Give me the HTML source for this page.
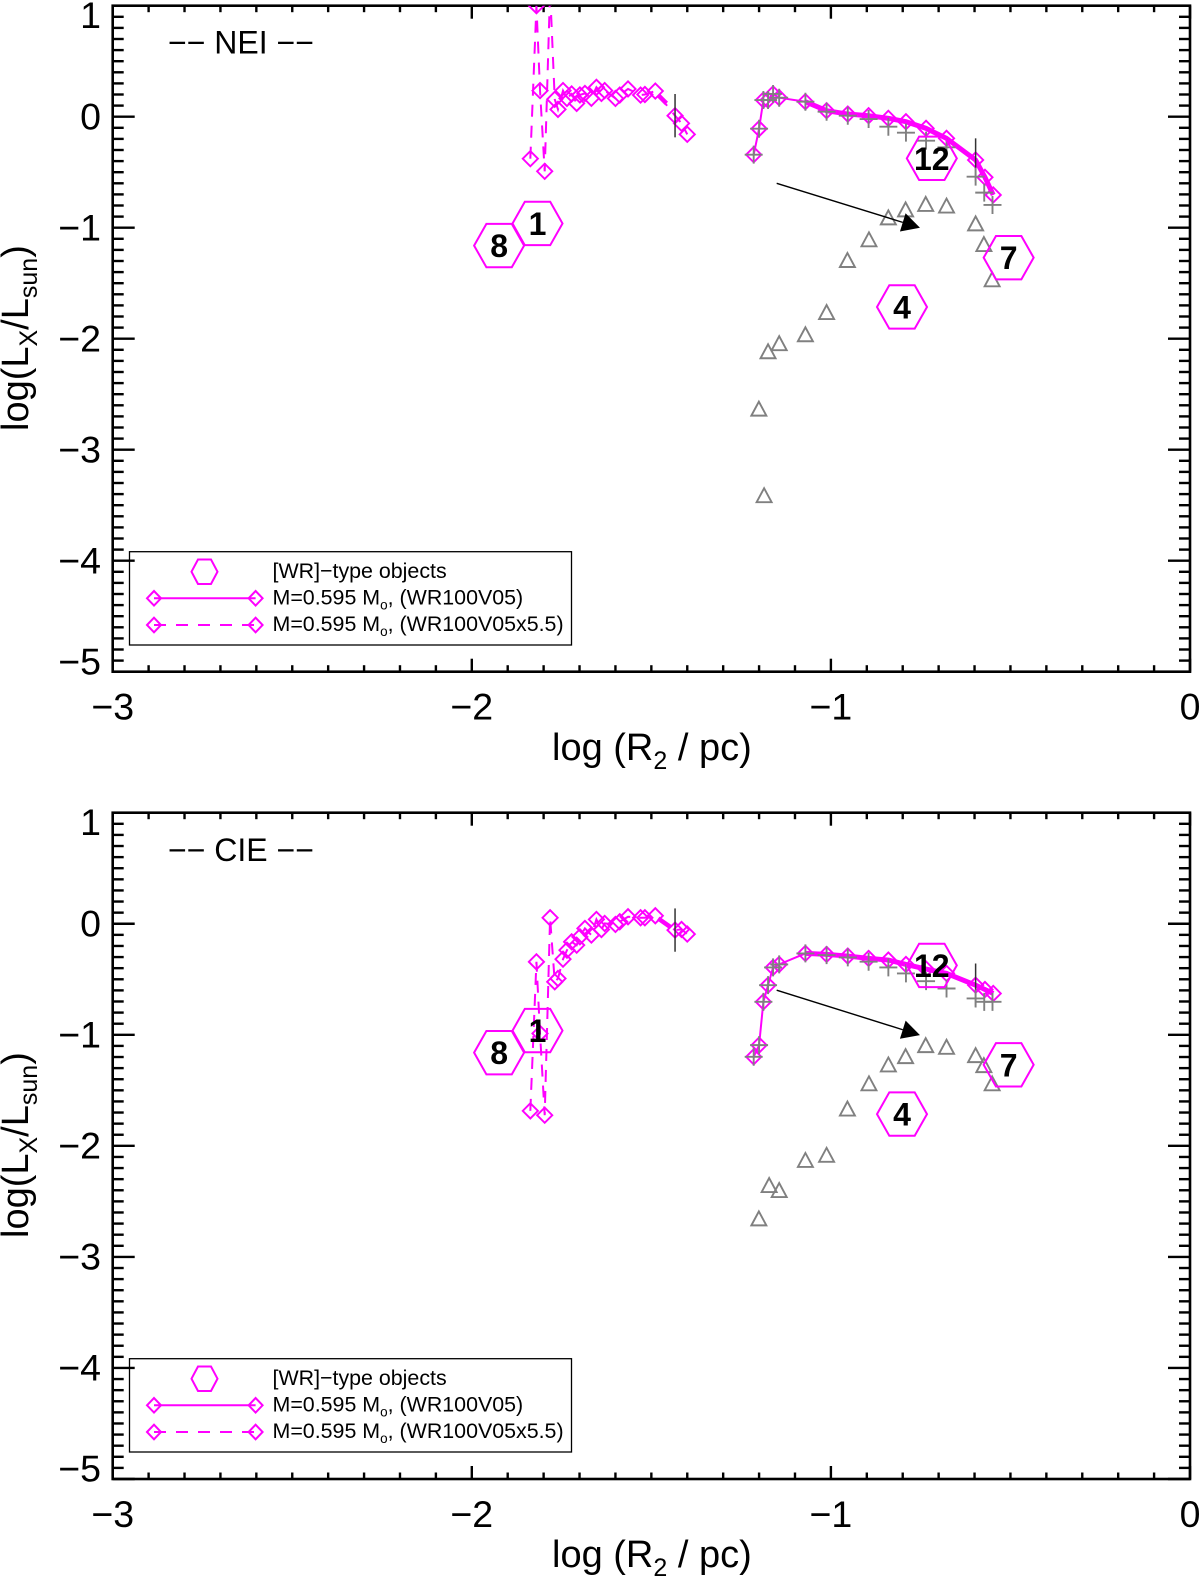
<!DOCTYPE html>
<html>
<head>
<meta charset="utf-8">
<title>Lx vs R2 chart</title>
<style>
html,body{margin:0;padding:0;background:#fff;}
svg{display:block;font-family:"Liberation Sans",sans-serif;}
text{fill:#000;}
</style>
</head>
<body>
<svg id="chart" xmlns="http://www.w3.org/2000/svg" width="1200" height="1578" viewBox="0 0 1200 1578">
  <rect x="0" y="0" width="1200" height="1578" fill="#fff"/>
  <defs>
    <clipPath id="clip-nei"><rect x="112.7" y="5.7" width="1077.3" height="666"/></clipPath>
    <clipPath id="clip-cie"><rect x="112.7" y="812.7" width="1077.3" height="666.3"/></clipPath>
  </defs>

  <g id="panel-nei">
    <text x="168" y="53.5" font-size="32">−− NEI −−</text>
    <text x="552" y="760" font-size="38">log (R<tspan font-size="25" dy="9">2</tspan><tspan dy="-9"> / pc)</tspan></text>
    <text transform="translate(28,431) rotate(-90)" font-size="38">log(L<tspan font-size="25" dy="9">X</tspan><tspan dy="-9">/L</tspan><tspan font-size="25" dy="9">sun</tspan><tspan dy="-9">)</tspan></text>
    <g>
      <rect x="129.5" y="551.7" width="442" height="93.3" fill="none" stroke="#000" stroke-width="1.3"/>
      <polygon points="191.5,571.7 198,559.5 211,559.5 217.5,571.7 211,584 198,584" fill="none" stroke="#ff00ff" stroke-width="2"/>
      <text x="272.5" y="578" font-size="21.4">[WR]−type objects</text>
      <line x1="154" y1="598.3" x2="255.6" y2="598.3" stroke="#ff00ff" stroke-width="2"/>
      <polygon points="147,598.3 154,591 161,598.3 154,605.6" fill="none" stroke="#ff00ff" stroke-width="2"/>
      <polygon points="248.6,598.3 255.6,591 262.6,598.3 255.6,605.6" fill="none" stroke="#ff00ff" stroke-width="2"/>
      <text x="272.5" y="604.5" font-size="21.4">M=0.595 M<tspan font-size="13.5" dy="5">o</tspan><tspan dy="-5">, (WR100V05)</tspan></text>
      <line x1="154" y1="625" x2="255.6" y2="625" stroke="#ff00ff" stroke-width="2" stroke-dasharray="12 10"/>
      <polygon points="147,625 154,617.7 161,625 154,632.3" fill="none" stroke="#ff00ff" stroke-width="2"/>
      <polygon points="248.6,625 255.6,617.7 262.6,625 255.6,632.3" fill="none" stroke="#ff00ff" stroke-width="2"/>
      <text x="272.5" y="631" font-size="21.4">M=0.595 M<tspan font-size="13.5" dy="5">o</tspan><tspan dy="-5">, (WR100V05x5.5)</tspan></text>
    </g>
  </g>

  <g id="panel-cie">
    <text x="168" y="861" font-size="32">−− CIE −−</text>
    <text x="552" y="1567" font-size="38">log (R<tspan font-size="25" dy="9">2</tspan><tspan dy="-9"> / pc)</tspan></text>
    <text transform="translate(28,1238) rotate(-90)" font-size="38">log(L<tspan font-size="25" dy="9">X</tspan><tspan dy="-9">/L</tspan><tspan font-size="25" dy="9">sun</tspan><tspan dy="-9">)</tspan></text>
    <g>
      <rect x="129.5" y="1358.7" width="442" height="93.3" fill="none" stroke="#000" stroke-width="1.3"/>
      <polygon points="191.5,1378.7 198,1366.5 211,1366.5 217.5,1378.7 211,1391 198,1391" fill="none" stroke="#ff00ff" stroke-width="2"/>
      <text x="272.5" y="1385" font-size="21.4">[WR]−type objects</text>
      <line x1="154" y1="1405.3" x2="255.6" y2="1405.3" stroke="#ff00ff" stroke-width="2"/>
      <polygon points="147,1405.3 154,1398 161,1405.3 154,1412.6" fill="none" stroke="#ff00ff" stroke-width="2"/>
      <polygon points="248.6,1405.3 255.6,1398 262.6,1405.3 255.6,1412.6" fill="none" stroke="#ff00ff" stroke-width="2"/>
      <text x="272.5" y="1411.5" font-size="21.4">M=0.595 M<tspan font-size="13.5" dy="5">o</tspan><tspan dy="-5">, (WR100V05)</tspan></text>
      <line x1="154" y1="1432" x2="255.6" y2="1432" stroke="#ff00ff" stroke-width="2" stroke-dasharray="12 10"/>
      <polygon points="147,1432 154,1424.7 161,1432 154,1439.3" fill="none" stroke="#ff00ff" stroke-width="2"/>
      <polygon points="248.6,1432 255.6,1424.7 262.6,1432 255.6,1439.3" fill="none" stroke="#ff00ff" stroke-width="2"/>
      <text x="272.5" y="1438" font-size="21.4">M=0.595 M<tspan font-size="13.5" dy="5">o</tspan><tspan dy="-5">, (WR100V05x5.5)</tspan></text>
    </g>
  </g>
</svg>

<script>
var xTickLabels = ['−3', '−2', '−1', '0'];
var xTickValues = [-3, -2, -1, 0];
var yTickLabels = ['1', '0', '−1', '−2', '−3', '−4', '−5'];
var yTickValues = [1, 0, -1, -2, -3, -4, -5];

// shared radii (log pc)
var solidR = [-1.215, -1.200, -1.188, -1.175, -1.161, -1.144, -1.071, -1.012, -0.953, -0.895, -0.840, -0.791, -0.735, -0.678, -0.597, -0.571, -0.548];
var plusR = [-1.215, -1.200, -1.188, -1.175, -1.161, -1.144, -1.071, -1.012, -0.953, -0.895, -0.840, -0.791, -0.735, -0.678, -0.597, -0.573, -0.550];
var triR = [-1.2006, -1.186, -1.175, -1.144, -1.071, -1.012, -0.954, -0.894, -0.840, -0.792, -0.736, -0.678, -0.597, -0.574, -0.551];
var dashR = [-1.837, -1.820, -1.810, -1.797, -1.782, -1.769, -1.760, -1.746, -1.735, -1.722, -1.708, -1.699, -1.685, -1.667, -1.653, -1.639, -1.630, -1.600, -1.588, -1.565, -1.530, -1.518, -1.489, -1.434, -1.416, -1.400];

// NEI series
var neiSolidL = [-0.342, -0.108, 0.150, 0.150, 0.205, 0.171, 0.135, 0.054, 0.024, 0.009, -0.015, -0.045, -0.105, -0.195, -0.390, -0.546, -0.705];
var neiPlusL = [-0.342, -0.108, 0.150, 0.150, 0.205, 0.171, 0.135, 0.045, 0.009, -0.021, -0.090, -0.144, -0.216, -0.276, -0.540, -0.684, -0.795];
var neiTriL = [-2.63, -3.41, -2.113, -2.04, -1.96, -1.76, -1.291, -1.105, -0.907, -0.835, -0.786, -0.801, -0.961, -1.147, -1.465];
var neiDashL = [-0.378, 1.00, 0.235, -0.492, 1.14, 0.157, 0.066, 0.235, 0.165, 0.205, 0.12, 0.196, 0.21, 0.166, 0.265, 0.21, 0.235, 0.165, 0.195, 0.25, 0.195, 0.20, 0.231, 0.009, -0.06, -0.159];
var neiDenseR = [-1.481, -1.458];
var neiDenseL = [0.195, 0.12];
var neiErrR = [-1.434, -0.597];
var neiErrL = [0.009, -0.390];
var neiArrowR = [-1.151, -0.752];
var neiArrowL = [-0.600, -1.000];

// CIE series
var cieSolidL = [-1.198, -1.093, -0.703, -0.553, -0.393, -0.366, -0.267, -0.276, -0.291, -0.312, -0.327, -0.366, -0.408, -0.447, -0.553, -0.592, -0.628];
var ciePlusL = [-1.198, -1.093, -0.703, -0.553, -0.393, -0.366, -0.267, -0.282, -0.303, -0.342, -0.393, -0.447, -0.517, -0.583, -0.673, -0.703, -0.703];
var cieTriL = [-2.653, -2.353, -2.398, -2.127, -2.081, -1.664, -1.437, -1.267, -1.192, -1.093, -1.108, -1.183, -1.273, -1.437];
var cieTriR = [-1.2006, -1.172, -1.144, -1.071, -1.012, -0.954, -0.894, -0.840, -0.792, -0.736, -0.678, -0.597, -0.574, -0.551];
var cieDashL = [-1.685, -0.343, -0.988, -1.724, 0.054, -0.523, -0.493, -0.319, -0.238, -0.163, -0.193, -0.118, -0.042, -0.102, 0.039, -0.052, 0.003, -0.006, 0.018, 0.063, 0.054, 0.054, 0.072, -0.057, -0.051, -0.093];
var cieDenseR = [-1.481, -1.448];
var cieDenseL = [0.048, -0.027];
var cieErrR = [-1.434, -0.597];
var cieErrL = [-0.057, -0.553];
var cieArrowR = [-1.151, -0.752];
var cieArrowL = [-0.598, -1.003];

// [WR]-type objects
var objectIds = ['8', '1', '12', '4', '7'];
var objectR = [-1.924, -1.817, -0.719, -0.802, -0.505];
var objectL = [-1.161, -0.962, -0.375, -1.714, -1.270];

var NS = 'http://www.w3.org/2000/svg';
var MAGENTA = '#ff00ff';
var GRAY = '#808080';

function make(tag, attrs, parent) {
  var e = document.createElementNS(NS, tag);
  for (var k in attrs) e.setAttribute(k, attrs[k]);
  parent.appendChild(e);
  return e;
}

function drawPanel(root, prefix, clipId, y1px, y5px, d) {
  function sx(v) { return 1190 + v * 359.1; }
  var unit = (y5px - y1px) / 6;
  function sy(v) { return y1px + (1 - v) * unit; }
  var left = sx(-3), right = sx(0);

  // frame
  var frame = make('rect', {x: left, y: y1px, width: right - left, height: y5px - y1px, fill: 'none', stroke: '#000', 'stroke-width': 2.6}, root);
  
  

  // ticks
  var ticks = make('g', {stroke: '#000', 'stroke-width': 2.4, fill: 'none'}, root);
  
  
  var i, v, len, t;
  for (i = 0; i <= 30; i++) {
    v = -3 + i * 0.1;
    len = (i % 10 === 0) ? 13 : 6.5;
    t = make('line', {x1: sx(v), x2: sx(v), y1: y5px, y2: y5px - len}, ticks);
    
    
    t = make('line', {x1: sx(v), x2: sx(v), y1: y1px, y2: y1px + len}, ticks);
    
    
  }
  for (i = 0; i <= 60; i++) {
    v = 1 - i * 0.1;
    len = (i % 10 === 0) ? 22 : 11;
    t = make('line', {x1: left, x2: left + len, y1: sy(v), y2: sy(v)}, ticks);
    
    
    t = make('line', {x1: right, x2: right - len, y1: sy(v), y2: sy(v)}, ticks);
    
    
  }

  // tick labels
  xTickValues.forEach(function (val, n) {
    var lab = make('text', {x: sx(val) , y: y5px + 48, 'font-size': 37.5, 'text-anchor': 'middle'}, root);
    lab.textContent = xTickLabels[n];
    
    
  });
  yTickValues.forEach(function (val, n) {
    var nudge = (n === 0) ? 9.5 : (n === yTickValues.length - 1 ? -10 : 0);
    var lab = make('text', {x: 101, y: sy(val) + 12.7 + nudge, 'font-size': 37.5, 'text-anchor': 'end'}, root);
    lab.textContent = yTickLabels[n];
    
    
  });

  var plot = make('g', {'clip-path': 'url(#' + clipId + ')'}, root);
  
  

  function pts(xs, ys) {
    return xs.map(function (x, n) { return sx(x).toFixed(2) + ',' + sy(ys[n]).toFixed(2); }).join(' ');
  }

  // lines
  var dashLine = make('polyline', {points: pts(d.dashR, d.dashL), fill: 'none', stroke: MAGENTA, 'stroke-width': 2, 'stroke-dasharray': '12 9'}, plot);
  
  
  var dense = make('polyline', {points: pts(d.denseR, d.denseL), fill: 'none', stroke: MAGENTA, 'stroke-width': 4.5}, plot);
  
  
  var solidLine = make('polyline', {points: pts(solidR, d.solidL), fill: 'none', stroke: MAGENTA, 'stroke-width': 2}, plot);
  
  
  var thick = make('polyline', {points: pts(solidR.slice(6), d.solidL.slice(6)), fill: 'none', stroke: MAGENTA, 'stroke-width': 5}, plot);
  
  

  function diamond(x, y, name) {
    var cx = sx(x), cy = sy(y), r = 7.6;
    var p = make('polygon', {points: (cx - r) + ',' + cy + ' ' + cx + ',' + (cy - r) + ' ' + (cx + r) + ',' + cy + ' ' + cx + ',' + (cy + r), fill: 'none', stroke: MAGENTA, 'stroke-width': 1.9}, plot);
    
    
  }
  d.dashR.forEach(function (x, n) { diamond(x, d.dashL[n], prefix + '-dashed-series-point'); });
  solidR.forEach(function (x, n) { diamond(x, d.solidL[n], prefix + '-solid-series-point'); });

  // error bars
  d.errR.forEach(function (x, n) {
    var b = make('line', {x1: sx(x), x2: sx(x), y1: sy(d.errL[n] + 0.195), y2: sy(d.errL[n] - 0.195), stroke: '#333', 'stroke-width': 1.5}, plot);
    
    
  });

  // plus series
  plusR.forEach(function (x, n) {
    var cx = sx(x), cy = sy(d.plusL[n]), r = 9;
    var p = make('path', {d: 'M' + (cx - r) + ' ' + cy + 'H' + (cx + r) + 'M' + cx + ' ' + (cy - r) + 'V' + (cy + r), fill: 'none', stroke: GRAY, 'stroke-width': 1.9}, plot);
    
    
  });

  // triangle series
  d.triR.forEach(function (x, n) {
    var cx = sx(x), cy = sy(d.triL[n]);
    var p = make('polygon', {points: (cx - 7.5) + ',' + (cy + 7) + ' ' + cx + ',' + (cy - 7) + ' ' + (cx + 7.5) + ',' + (cy + 7), fill: 'none', stroke: GRAY, 'stroke-width': 1.9}, plot);
    
    
  });

  // arrow
  var ax0 = sx(d.arrowR[0]), ay0 = sy(d.arrowL[0]), ax1 = sx(d.arrowR[1]), ay1 = sy(d.arrowL[1]);
  var dx = ax1 - ax0, dy = ay1 - ay0, L = Math.sqrt(dx * dx + dy * dy), ux = dx / L, uy = dy / L;
  var bx = ax1 - ux * 18, by = ay1 - uy * 18;
  var shaft = make('line', {x1: ax0, y1: ay0, x2: bx, y2: by, stroke: '#000', 'stroke-width': 1.4}, plot);
  
  
  var head = make('polygon', {points: ax1 + ',' + ay1 + ' ' + (bx - uy * 9.5) + ',' + (by + ux * 9.5) + ' ' + (bx + uy * 9.5) + ',' + (by - ux * 9.5), fill: '#000'}, plot);
  
  

  // hexagons
  objectIds.forEach(function (id, n) {
    var cx = sx(objectR[n]), cy = sy(objectL[n]);
    var hex = make('polygon', {points: [[-25, 0], [-12.7, -21.7], [12.7, -21.7], [25, 0], [12.7, 21.7], [-12.7, 21.7]].map(function (q) { return (cx + q[0]) + ',' + (cy + q[1]); }).join(' '), fill: 'none', stroke: MAGENTA, 'stroke-width': 2}, root);
    
    
    var lab = make('text', {x: cx, y: cy + 11.5, 'font-size': 32, 'font-weight': 'bold', 'text-anchor': 'middle'}, root);
    lab.textContent = id;
    
    
  });
}

drawPanel(document.getElementById('panel-nei'), 'nei', 'clip-nei', 5.7, 671.7, {
  solidL: neiSolidL, plusL: neiPlusL, triR: triR, triL: neiTriL, dashR: dashR, dashL: neiDashL,
  denseR: neiDenseR, denseL: neiDenseL, errR: neiErrR, errL: neiErrL, arrowR: neiArrowR, arrowL: neiArrowL
});
drawPanel(document.getElementById('panel-cie'), 'cie', 'clip-cie', 812.7, 1479, {
  solidL: cieSolidL, plusL: ciePlusL, triR: cieTriR, triL: cieTriL, dashR: dashR, dashL: cieDashL,
  denseR: cieDenseR, denseL: cieDenseL, errR: cieErrR, errL: cieErrL, arrowR: cieArrowR, arrowL: cieArrowL
});
</script>
</body>
</html>
